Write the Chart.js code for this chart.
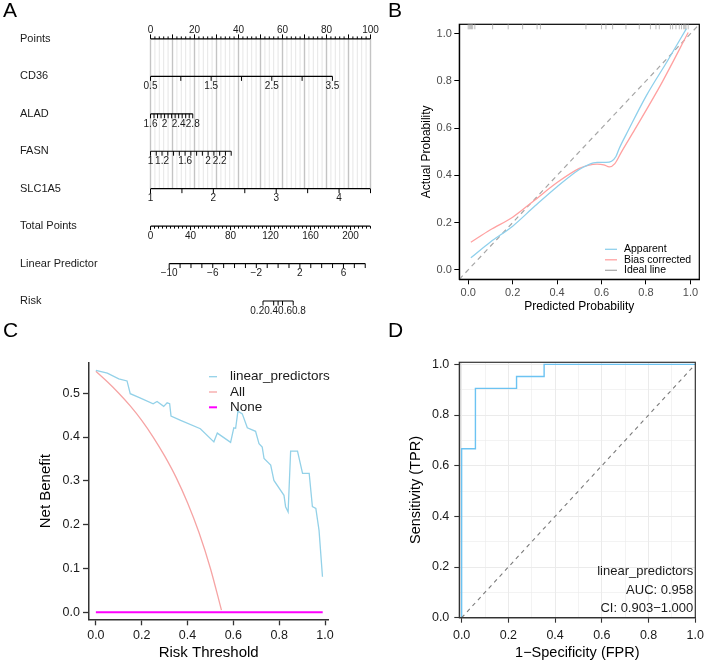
<!DOCTYPE html>
<html>
<head>
<meta charset="utf-8">
<script src="https://cdn.jsdelivr.net/npm/chart.js@4.4.1/dist/chart.umd.min.js"></script>
<style>
  body { margin: 0; background: #fff; width: 709px; height: 663px; position: relative; overflow: hidden;
         font-family: "Liberation Sans", Arial, Helvetica, sans-serif; }
  canvas { position: absolute; }
  .tag { position: absolute; font-size: 21px; line-height: 1; color: #000; }
</style>
</head>
<body>
<canvas id="nomo" width="380" height="320" style="left:0;top:0"></canvas>
<canvas id="calib" width="349" height="320" style="left:360px;top:0"></canvas>
<canvas id="dca" width="360" height="343" style="left:0;top:320px"></canvas>
<canvas id="roc" width="349" height="343" style="left:360px;top:320px"></canvas>
<div class="tag" style="left:3px;top:-1px">A</div>
<div class="tag" style="left:388px;top:-1px">B</div>
<div class="tag" style="left:3px;top:319px">C</div>
<div class="tag" style="left:388px;top:319px">D</div>
<script>
// ---- A: nomogram ----
function seq(a, b, step) {
    var out = [];
    for (var i = 0; a + i * step <= b + 1e-9; i++) out.push(+(a + i * step).toFixed(4));
    return out;
}
var rowNames = ['Points', 'CD36', 'ALAD', 'FASN', 'SLC1A5', 'Total Points', 'Linear Predictor', 'Risk'];
var pointsTicks = seq(0, 100, 2);
var pointsLabels = [0, 20, 40, 60, 80, 100];
var cd36Ticks = [0.5, 1, 1.5, 2, 2.5, 3, 3.5];
var cd36Labels = [0.5, 1.5, 2.5, 3.5];
var cd36Map = [[0.5, 0], [3.5, 82.7]];      // value -> points
var aladTicks = seq(1.6, 2.8, 0.1);
var aladLabels = [1.6, 2, 2.4, 2.8];
var aladMap = [[1.6, 0], [2.8, 19.2]];
var fasnTicks = seq(1, 2.4, 0.1);
var fasnLabels = [1, 1.2, 1.6, 2, 2.2];
var fasnMap = [[1, 0], [2, 26.2]];
var slcTicks = seq(1, 4.5, 0.5);
var slcLabels = [1, 2, 3, 4];
var slcMap = [[1, 0], [4.5, 100]];
var totalTicks = seq(0, 220, 4);
var totalLabels = [0, 40, 80, 120, 160, 200];
var totalMap = [[0, 0], [220, 100]];
var lpTicks = seq(-10, 8, 1);
var lpLabels = [-10, -6, -2, 2, 6];
var lpMap = [[-10, 8.5], [6, 87.7]];
var riskTicks = [0.2, 0.4, 0.5, 0.6, 0.8];
var riskLabels = [0.2, 0.4, 0.6, 0.8];

// ---- B: calibration ----
var calTicks = [0, 0.2, 0.4, 0.6, 0.8, 1];
var appX = [0.012, 0.1, 0.2, 0.3, 0.4, 0.5, 0.54, 0.58, 0.62, 0.645, 0.665, 0.68, 0.72, 0.8, 0.9, 0.982];
var appY = [0.051, 0.118, 0.185, 0.27, 0.352, 0.425, 0.445, 0.455, 0.455, 0.46, 0.48, 0.515, 0.59, 0.735, 0.89, 1.022];
var biasX = [0.012, 0.1, 0.2, 0.3, 0.4, 0.5, 0.54, 0.58, 0.61, 0.635, 0.66, 0.69, 0.75, 0.87, 0.99];
var biasY = [0.117, 0.17, 0.223, 0.296, 0.37, 0.43, 0.443, 0.448, 0.445, 0.436, 0.45, 0.5, 0.595, 0.79, 1.005];
var idealX = [-0.04, 1.04];
var calRug = [0, 0.005, 0.01, 0.015, 0.02, 0.03, 0.11, 0.18, 0.245, 0.31, 0.325, 0.53, 0.6, 0.62, 0.65, 0.71,
              0.77, 0.82, 0.845, 0.86, 0.91, 0.92, 0.935, 0.95, 0.96, 0.97, 0.975, 0.98, 0.99];

// ---- C: decision curve ----
var dcaTicksX = [0, 0.2, 0.4, 0.6, 0.8, 1];
var dcaTicksY = [0, 0.1, 0.2, 0.3, 0.4, 0.5];
var lpX = [0, 0.05, 0.1, 0.136, 0.15, 0.19, 0.25, 0.267, 0.296, 0.311, 0.322, 0.328, 0.37, 0.456, 0.515,
           0.53, 0.588, 0.602, 0.61, 0.62, 0.639, 0.661, 0.697, 0.712, 0.726, 0.734, 0.763, 0.777, 0.821, 0.828,
           0.839, 0.85, 0.88, 0.902, 0.931, 0.945, 0.96, 0.974, 0.989];
var lpY = [0.552, 0.546, 0.533, 0.528, 0.499, 0.49, 0.476, 0.481, 0.47, 0.478, 0.476, 0.448, 0.438, 0.419, 0.389,
           0.409, 0.388, 0.421, 0.42, 0.459, 0.453, 0.421, 0.413, 0.385, 0.377, 0.351, 0.336, 0.301, 0.267, 0.241,
           0.229, 0.368, 0.368, 0.317, 0.317, 0.241, 0.237, 0.187, 0.081];
var allX = [0, 0.05, 0.1, 0.15, 0.2, 0.25, 0.3, 0.35, 0.4, 0.45, 0.5, 0.548];
var allY = [0.55, 0.526, 0.5, 0.471, 0.438, 0.4, 0.357, 0.308, 0.25, 0.182, 0.1, 0.005];
var noneX = [0, 0.99];
var noneY = [0, 0];

// ---- D: ROC ----
var rocTicks = seq(0, 1, 0.1);
var rocFpr = [0, 0, 0.059, 0.059, 0.235, 0.235, 0.353, 0.353, 1];
var rocTpr = [0, 0.667, 0.667, 0.905, 0.905, 0.952, 0.952, 1, 1];
var rocName = 'linear_predictors';
var rocAuc = '0.958';
var rocCi = ['0.903', '1.000'];

Chart.defaults.font.family = '"Liberation Sans", Arial, Helvetica, sans-serif';
Chart.defaults.animation = false;
Chart.defaults.responsive = false;
Chart.defaults.devicePixelRatio = 1;
Chart.defaults.plugins.legend.display = false;
Chart.defaults.plugins.tooltip.enabled = false;

function pairs(xs, ys) { return xs.map(function (x, i) { return {x: x, y: ys[i]}; }); }
function fixedTicks(vals) { return function (s) { s.ticks = vals.map(function (v) { return {value: v}; }); }; }
function fitWidth(w) { return function (s) { s.width = w; s.paddingTop = 0; s.paddingBottom = 0; }; }
function fitHeight(h) { return function (s) { s.height = h; }; }
function isMult(v, m) { return Math.abs(v / m - Math.round(v / m)) < 1e-6; }
function fmt(v) { return v < 0 ? '\u2212' + Math.abs(v) : String(v); }
function logit(p) { return Math.log(p / (1 - p)); }

var nomoRows = [
    {ticks: pointsTicks, labels: pointsLabels, map: [[0, 0], [100, 100]], up: true},
    {ticks: cd36Ticks, labels: cd36Labels, map: cd36Map},
    {ticks: aladTicks, labels: aladLabels, map: aladMap},
    {ticks: fasnTicks, labels: fasnLabels, map: fasnMap},
    {ticks: slcTicks, labels: slcLabels, map: slcMap},
    {ticks: totalTicks, labels: totalLabels, map: totalMap, small: true},
    {ticks: lpTicks, labels: lpLabels, map: lpMap},
    {ticks: riskTicks, labels: riskLabels, map: lpMap, via: logit}
];
function toPts(r, v) {
    if (r.via) v = r.via(v);
    var a = r.map[0], b = r.map[1];
    return a[1] + (v - a[0]) / (b[0] - a[0]) * (b[1] - a[1]);
}

var nomoPlugin = {
    id: 'nomo',
    beforeDatasetsDraw: function (chart) {
        var x = chart.scales.x, y = chart.scales.y, ctx = chart.ctx;
        var top = y.getPixelForValue(0), bot = y.getPixelForValue(4);
        ctx.save();
        pointsTicks.forEach(function (p) {
            var major = isMult(p, 10);
            ctx.strokeStyle = major ? '#c4c4c4' : '#e3e3e3';
            ctx.lineWidth = major ? 1.4 : 0.9;
            var px = x.getPixelForValue(p);
            ctx.beginPath(); ctx.moveTo(px, top); ctx.lineTo(px, bot); ctx.stroke();
        });
        ctx.restore();
    },
    afterDatasetsDraw: function (chart) {
        var x = chart.scales.x, y = chart.scales.y, ctx = chart.ctx;
        ctx.save();
        ctx.strokeStyle = '#000';
        ctx.lineWidth = 1;
        ctx.fillStyle = '#1a1a1a';
        ctx.font = '10px ' + Chart.defaults.font.family;
        ctx.textAlign = 'center';
        ctx.textBaseline = 'middle';
        nomoRows.forEach(function (r, i) {
            var py = y.getPixelForValue(i);
            r.ticks.forEach(function (v) {
                var px = x.getPixelForValue(toPts(r, v));
                var len;
                if (r.up) len = isMult(v, 10) ? -4.5 : -2.5;
                else if (r.small) len = isMult(v, 40) ? 4 : 2.5;
                else len = 4.5;
                ctx.beginPath(); ctx.moveTo(px, py); ctx.lineTo(px, py + len); ctx.stroke();
            });
            // label centres; crowded labels are spread to sit side by side
            var txt = r.labels.map(fmt);
            var pos = r.labels.map(function (v) { return x.getPixelForValue(toPts(r, v)); });
            var w = txt.map(function (t) { return ctx.measureText(t).width; });
            var crowded = pos.some(function (p, k) { return k > 0 && p - pos[k - 1] < (w[k] + w[k - 1]) / 2 - 1; });
            if (crowded) {
                var total = w.reduce(function (s, v) { return s + v; }, 0);
                var cur = (pos[0] + pos[pos.length - 1]) / 2 - total / 2;
                pos = w.map(function (v) { var c = cur + v / 2; cur += v; return c; });
            }
            txt.forEach(function (t, k) { ctx.fillText(t, pos[k], r.up ? py - 8.5 : py + 10); });
        });
        ctx.restore();
    }
};

new Chart(document.getElementById('nomo'), {
    type: 'scatter',
    data: {
        datasets: nomoRows.map(function (r, i) {
            var a = r.ticks[0], b = r.ticks[r.ticks.length - 1];
            return {data: [{x: toPts(r, a), y: i}, {x: toPts(r, b), y: i}], showLine: true,
                    borderColor: '#000', borderWidth: 1.2, pointRadius: 0};
        })
    },
    options: {
        layout: {padding: {left: 20, top: 20.2, right: 9.5, bottom: 0.3}},
        scales: {
            x: {type: 'linear', min: 0, max: 100, display: false},
            y: {type: 'linear', min: -0.5, max: 7.5, reverse: true,
                afterBuildTicks: fixedTicks([0, 1, 2, 3, 4, 5, 6, 7]), afterFit: fitWidth(130.5),
                ticks: {callback: function (v, i) { return rowNames[i]; }, crossAlign: 'far',
                        color: '#1a1a1a', font: {size: 11}, padding: 0, autoSkip: false},
                grid: {display: false}, border: {display: false}}
        }
    },
    plugins: [nomoPlugin]
});

// ---- shared plugins ----
var framePlugin = {
    id: 'frame',
    afterDatasetsDraw: function (chart, args, o) {
        var a = chart.chartArea, ctx = chart.ctx;
        ctx.save();
        ctx.strokeStyle = o.color; ctx.lineWidth = o.width;
        ctx.strokeRect(a.left, a.top, a.right - a.left, a.bottom - a.top);
        ctx.restore();
    }
};
var rugPlugin = {
    id: 'rug',
    afterDatasetsDraw: function (chart, args, o) {
        var x = chart.scales.x, top = chart.chartArea.top, ctx = chart.ctx;
        ctx.save();
        ctx.strokeStyle = o.color; ctx.lineWidth = 0.8;
        o.values.forEach(function (v) {
            var px = x.getPixelForValue(v);
            ctx.beginPath(); ctx.moveTo(px, top); ctx.lineTo(px, top + o.len); ctx.stroke();
        });
        ctx.restore();
    }
};
var insideLegend = {
    id: 'insideLegend',
    afterDraw: function (chart, args, o) {
        var ctx = chart.ctx;
        ctx.save();
        ctx.font = o.size + 'px ' + Chart.defaults.font.family;
        ctx.textBaseline = 'middle';
        ctx.textAlign = 'left';
        chart.data.datasets.forEach(function (ds, i) {
            if (!ds.label) return;
            var y = o.y + i * o.rowH;
            ctx.strokeStyle = ds.borderColor; ctx.lineWidth = ds.borderWidth; ctx.setLineDash([]);
            ctx.beginPath(); ctx.moveTo(o.x, y); ctx.lineTo(o.x + o.lineLen, y); ctx.stroke();
            ctx.fillStyle = o.color;
            ctx.fillText(ds.label, o.x + o.lineLen + o.gap, y);
        });
        ctx.restore();
    }
};
var notePlugin = {
    id: 'note',
    afterDraw: function (chart, args, o) {
        var ctx = chart.ctx;
        ctx.save();
        ctx.font = o.size + 'px ' + Chart.defaults.font.family;
        ctx.fillStyle = o.color; ctx.textAlign = 'right'; ctx.textBaseline = 'middle';
        o.lines.forEach(function (t, i) { ctx.fillText(t, o.x, o.y + i * o.rowH); });
        ctx.restore();
    }
};

// ---- B ----
function calAxis(title, fit) {
    return {type: 'linear', min: -0.04, max: 1.04,
            afterBuildTicks: fixedTicks(calTicks), afterFit: fit,
            ticks: {callback: function (v) { return v.toFixed(1); }, color: '#4d4d4d', font: {size: 11},
                    padding: 2.5, maxRotation: 0, autoSkip: false},
            grid: {drawOnChartArea: false, tickLength: 5, tickColor: '#000', tickWidth: 1},
            border: {color: '#000', width: 1.2},
            title: {display: true, text: title, color: '#000', font: {size: 12}, padding: 0}};
}
new Chart(document.getElementById('calib'), {
    type: 'scatter',
    data: {
        datasets: [
            {label: 'Apparent', data: pairs(appX, appY), showLine: true, borderColor: '#8fd0ec',
             borderWidth: 1.3, pointRadius: 0, cubicInterpolationMode: 'monotone'},
            {label: 'Bias corrected', data: pairs(biasX, biasY), showLine: true, borderColor: '#ffa1a1',
             borderWidth: 1.3, pointRadius: 0, cubicInterpolationMode: 'monotone'},
            {label: 'Ideal line', data: pairs(idealX, idealX), showLine: true, borderColor: '#a6a6a6',
             borderDash: [5, 4], borderWidth: 1.2, pointRadius: 0}
        ]
    },
    options: {
        layout: {padding: {left: 59.5, top: 24.3, right: 9.7, bottom: 6.1}},
        scales: {
            x: calAxis('Predicted Probability', fitHeight(34.6)),
            y: calAxis('Actual Probability', fitWidth(39.8))
        },
        plugins: {
            frame: {color: '#000', width: 1.2},
            rug: {values: calRug, len: 5, color: '#aaaaaa'},
            insideLegend: {x: 245, y: 249.3, rowH: 10.5, lineLen: 12, gap: 7, size: 10.5, color: '#000'}
        }
    },
    plugins: [framePlugin, rugPlugin, insideLegend]
});

// ---- C ----
function dcaAxis(title, ticks, min, max, fit) {
    return {type: 'linear', min: min, max: max,
            afterBuildTicks: fixedTicks(ticks), afterFit: fit,
            ticks: {callback: function (v) { return v.toFixed(1); }, color: '#1a1a1a', font: {size: 12.5},
                    padding: 3, maxRotation: 0, autoSkip: false},
            grid: {drawOnChartArea: false, tickLength: 6, tickColor: '#333', tickWidth: 1.3},
            border: {color: '#333', width: 1.5},
            title: {display: true, text: title, color: '#000', font: {size: 15}, padding: 0}};
}
new Chart(document.getElementById('dca'), {
    type: 'scatter',
    data: {
        datasets: [
            {label: 'linear_predictors', data: pairs(lpX, lpY), showLine: true, borderColor: '#93d1e8',
             borderWidth: 1.3, pointRadius: 0},
            {label: 'All', data: pairs(allX, allY), showLine: true, borderColor: '#f6a4a4',
             borderWidth: 1.3, pointRadius: 0, cubicInterpolationMode: 'monotone'},
            {label: 'None', data: pairs(noneX, noneY), showLine: true, borderColor: '#ff00ff',
             borderWidth: 2, pointRadius: 0}
        ]
    },
    options: {
        layout: {padding: {left: 37, top: 43, right: 31.7, bottom: 0.7}},
        scales: {
            x: dcaAxis('Risk Threshold', dcaTicksX, -0.03, 1.0144, fitHeight(43)),
            y: dcaAxis('Net Benefit', dcaTicksY, -0.016, 0.569, fitWidth(52))
        },
        plugins: {
            insideLegend: {x: 209, y: 56.7, rowH: 15.3, lineLen: 8, gap: 13, size: 13.5, color: '#1a1a1a'}
        }
    },
    plugins: [insideLegend]
});

// ---- D ----
function rocAxis(title, min, max, fit) {
    var major = function (c) { return c.tick && isMult(c.tick.value, 0.2); };
    return {type: 'linear', min: min, max: max,
            afterBuildTicks: fixedTicks(rocTicks), afterFit: fit,
            ticks: {callback: function (v) { return isMult(v, 0.2) ? v.toFixed(1) : ''; }, color: '#1a1a1a',
                    font: {size: 12.5}, padding: 5, maxRotation: 0, autoSkip: false},
            grid: {color: '#ebebeb', lineWidth: function (c) { return major(c) ? 1 : 0.6; },
                   tickLength: 5, tickWidth: 1.1,
                   tickColor: function (c) { return major(c) ? '#333' : 'rgba(0,0,0,0)'; }},
            border: {color: '#333', width: 1.2},
            title: {display: true, text: title, color: '#000', font: {size: 14.5}, padding: 0}};
}
new Chart(document.getElementById('roc'), {
    type: 'scatter',
    data: {
        datasets: [
            {data: pairs([0, 1], [0, 1]), showLine: true, borderColor: '#7a7a7a', borderDash: [4, 4],
             borderWidth: 1.1, pointRadius: 0},
            {data: pairs(rocFpr, rocTpr), showLine: true, borderColor: '#6cc3f2', borderWidth: 1.4, pointRadius: 0}
        ]
    },
    options: {
        layout: {padding: {left: 47.3, top: 42.3, right: 9.7, bottom: 1}},
        scales: {
            x: rocAxis('1\u2212Specificity (FPR)', -0.01, 1.0, fitHeight(44.3)),
            y: rocAxis('Sensitivity (TPR)', 0, 1.008, fitWidth(52))
        },
        plugins: {
            frame: {color: '#333', width: 1.2},
            note: {x: 333.3, y: 251.7, rowH: 18.3, size: 13, color: '#1a1a1a',
                   lines: [rocName, 'AUC: ' + rocAuc, 'CI: ' + rocCi[0] + '\u2212' + rocCi[1]]}
        }
    },
    plugins: [framePlugin, notePlugin]
});
</script>
</body>
</html>
